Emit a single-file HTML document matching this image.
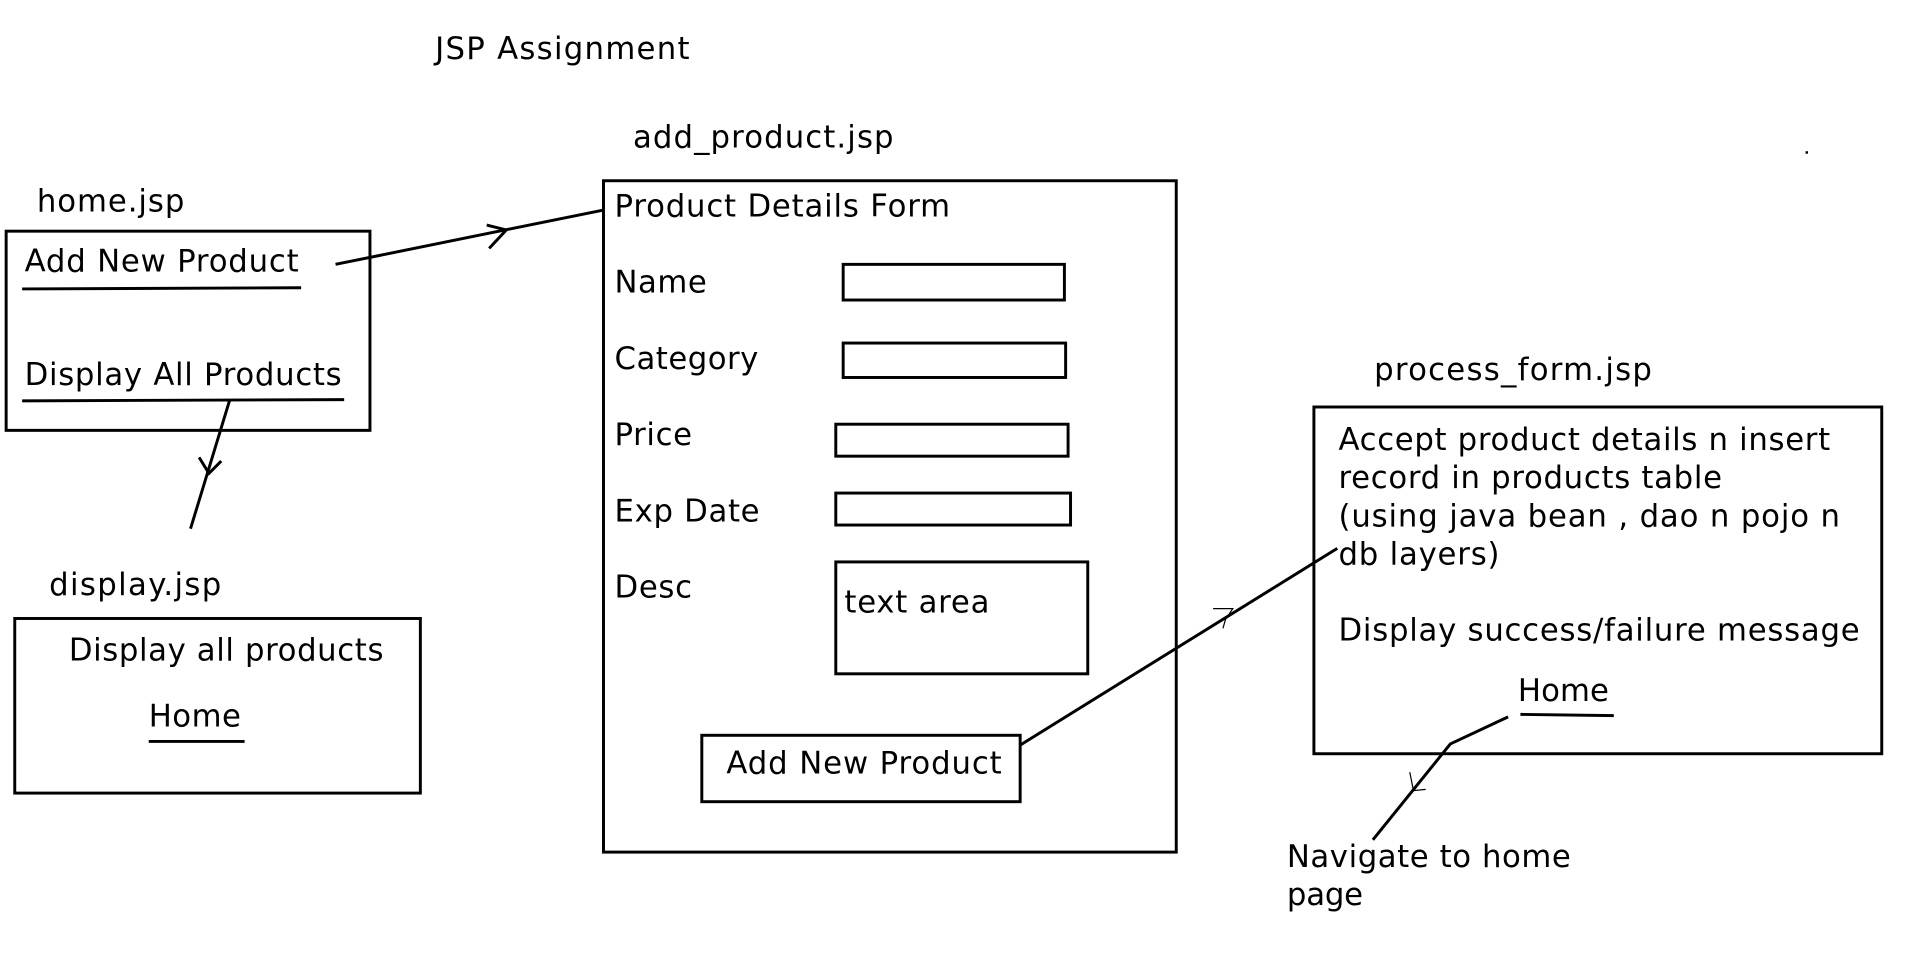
<!DOCTYPE html>
<html><head><meta charset="utf-8"><style>html,body{margin:0;padding:0;background:#fff}svg{display:block}</style></head>
<body>
<svg width="1926" height="964" viewBox="0 0 1567 784" preserveAspectRatio="none" xmlns="http://www.w3.org/2000/svg" font-family="DejaVu Sans, Liberation Sans, sans-serif" font-size="25" fill="#000">
<g fill="none" stroke="#000" stroke-width="2.4">
<rect x="5" y="188" width="296" height="162"/>
<line x1="18" y1="235" x2="245" y2="234"/>
<line x1="18" y1="326" x2="280" y2="325"/>
<line x1="273" y1="215" x2="490" y2="171"/>
<polyline points="396,183 412,187 398,202"/>
<line x1="187" y1="325" x2="155" y2="430"/>
<polyline points="162,372 170,385 180,375"/>
<rect x="12" y="503" width="330" height="142"/>
<line x1="121" y1="603" x2="199" y2="603"/>
<rect x="491" y="147" width="466" height="546"/>
<rect x="686" y="215" width="180" height="29"/>
<rect x="686" y="279" width="181" height="28"/>
<rect x="680" y="345" width="189" height="26"/>
<rect x="680" y="401" width="191" height="26"/>
<rect x="680" y="457" width="205" height="91"/>
<rect x="571" y="598" width="259" height="54"/>
<line x1="830" y1="606" x2="1088" y2="446"/>
<rect x="1069" y="331" width="462" height="282"/>
<line x1="1237" y1="581" x2="1313" y2="582"/>
<polyline points="1227,583 1180,605 1117,683"/>
</g>
<g fill="none" stroke="#000" stroke-width="1">
<polyline points="987,495 1003,495 997,504 995,511"/>
<polyline points="1147,628 1150,643 1160,642"/>
</g>
<rect x="1469" y="123" width="2" height="2"/>
<text x="354" y="48" textLength="207">JSP Assignment</text>
<text x="515" y="120" textLength="212">add_product.jsp</text>
<text x="30" y="172" textLength="120">home.jsp</text>
<text x="20" y="221" textLength="223">Add New Product</text>
<text x="20" y="313" textLength="258">Display All Products</text>
<text x="40" y="484" textLength="140">display.jsp</text>
<text x="56" y="537" textLength="256">Display all products</text>
<text x="121" y="591" textLength="75">Home</text>
<text x="500" y="176" textLength="273">Product Details Form</text>
<text x="500" y="238" textLength="75">Name</text>
<text x="500" y="300" textLength="117">Category</text>
<text x="500" y="362" textLength="63">Price</text>
<text x="500" y="424" textLength="118">Exp Date</text>
<text x="500" y="486" textLength="63">Desc</text>
<text x="687" y="498" textLength="118">text area</text>
<text x="591" y="629" textLength="224">Add New Product</text>
<text x="1118" y="309" textLength="226">process_form.jsp</text>
<text x="1089" y="366" textLength="400">Accept product details n insert</text>
<text x="1089" y="397" textLength="312">record in products table</text>
<text x="1089" y="428" textLength="408">(using java bean , dao n pojo n</text>
<text x="1089" y="459" textLength="131">db layers)</text>
<text x="1089" y="521" textLength="424">Display success/failure message</text>
<text x="1235" y="570" textLength="74">Home</text>
<text x="1047" y="705" textLength="231">Navigate to home</text>
<text x="1047" y="736" textLength="62">page</text>
</svg>
</body></html>
